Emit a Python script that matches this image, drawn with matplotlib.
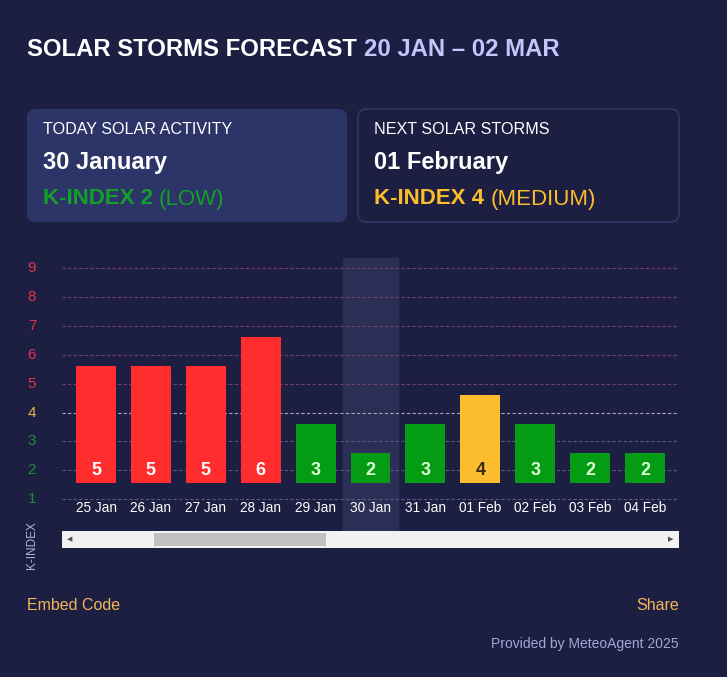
import numpy as np
import matplotlib.pyplot as plt
from matplotlib.patches import FancyBboxPatch, Rectangle

plt.rcParams['font.family'] = ['Liberation Sans', 'DejaVu Sans']

# data
dates = ['25 Jan', '26 Jan', '27 Jan', '28 Jan', '29 Jan', '30 Jan',
         '31 Jan', '01 Feb', '02 Feb', '03 Feb', '04 Feb']
kindex = [5, 5, 5, 6, 3, 2, 3, 4, 3, 2, 2]
today_idx = 5
y_levels = [1, 2, 3, 4, 5, 6, 7, 8, 9]

BG = '#1c1f42'
RED = '#ff2d2d'
GREEN = '#049c14'
YELLOW = '#fbbd2d'


def bar_color(v):
    if v >= 5:
        return RED
    if v == 4:
        return YELLOW
    return GREEN


def level_color(v):
    if v >= 5:
        return '#e0344a'
    if v == 4:
        return '#f0b24a'
    return '#1f8c3a'


def grid_color(v):
    if v >= 5:
        return '#7a3d6e'
    if v == 4:
        return '#a6a6bc'
    return '#575b82'


W, H = 727, 677
fig = plt.figure(figsize=(W / 100, H / 100), dpi=100, facecolor=BG)


def fx(px):
    return px / W


def fy(py):
    return 1 - py / H


# title
t1 = fig.text(fx(27), fy(50), 'SOLAR STORMS FORECAST ', color='white',
              fontsize=17.2, fontweight='bold', va='center', ha='left')
fig.canvas.draw()
bb = t1.get_window_extent()
fig.text(bb.x1 / W, fy(50), '20 JAN – 02 MAR', color='#c3c6fa',
         fontsize=17.2, fontweight='bold', va='center', ha='left')

# cards
card1 = FancyBboxPatch((fx(27), fy(222)), fx(320), (222 - 109) / H,
                       boxstyle='round,pad=0,rounding_size=0.012',
                       transform=fig.transFigure, facecolor='#2d3468',
                       edgecolor='none')
card2 = FancyBboxPatch((fx(358), fy(222)), fx(321), (222 - 109) / H,
                       boxstyle='round,pad=0,rounding_size=0.012',
                       transform=fig.transFigure, facecolor=BG,
                       edgecolor='#363b6e', linewidth=1)
fig.patches.extend([card1, card2])

fig.text(fx(43), fy(129), 'TODAY SOLAR ACTIVITY', color='white',
         fontsize=11.6, va='center')
fig.text(fx(43), fy(162), '30 January', color='white', fontsize=17,
         fontweight='bold', va='center')
k1 = fig.text(fx(43), fy(199), 'K-INDEX 2 ', color='#14a028', fontsize=16,
              fontweight='bold', va='center')
fig.text(fx(374), fy(129), 'NEXT SOLAR STORMS', color='white',
         fontsize=11.6, va='center')
fig.text(fx(374), fy(162), '01 February', color='white', fontsize=17,
         fontweight='bold', va='center')
k2 = fig.text(fx(374), fy(199), 'K-INDEX 4 ', color='#fbbd2d', fontsize=16,
              fontweight='bold', va='center')
fig.canvas.draw()
fig.text(k1.get_window_extent().x1 / W, fy(199), '(LOW)', color='#14a028',
         fontsize=16, va='center')
fig.text(k2.get_window_extent().x1 / W, fy(199), '(MEDIUM)', color='#fbbd2d',
         fontsize=16, va='center')

# chart
ax = fig.add_axes([fx(62), fy(531), fx(617), (531 - 258) / H])
ax.set_facecolor('none')
x = np.arange(len(dates))
ax.set_xlim(-0.62, len(dates) - 0.38)
ax.set_ylim(-0.10, 9.35)

ax.axvspan(today_idx - 0.5, today_idx + 0.5, ymin=0, ymax=1,
           color='#2b2f55', zorder=0)

for v in y_levels:
    ax.axhline(v, color=grid_color(v), linestyle=(0, (3, 2)), linewidth=0.8,
               zorder=1)

base = 1.57
for i, v in enumerate(kindex):
    ax.bar(x[i], v - 0.96, bottom=base, width=40 / 55, color=bar_color(v),
           zorder=2)
    tc = '#3a2a12' if v == 4 else ('#dcffd8' if v < 4 else 'white')
    ax.text(x[i], 2.0, str(v), color=tc, fontsize=13, fontweight='bold',
            ha='center', va='center', zorder=3)
    ax.text(x[i], 0.68, dates[i], color='white', fontsize=9.8,
            ha='center', va='center')

for s in ax.spines.values():
    s.set_visible(False)
ax.set_xticks([])
ax.set_yticks([])

for v in y_levels:
    fig.text(fx(32), ax.transData.transform((0, v))[1] / H, str(v),
             color=level_color(v), fontsize=11, ha='center', va='center')

fig.text(fx(32), fy(545), 'K-INDEX', color='#b0b4dc', fontsize=8.5,
         rotation=90, ha='center', va='center')

# scrollbar
fig.patches.append(Rectangle((fx(62), fy(548)), fx(617), 17 / H,
                             transform=fig.transFigure, facecolor='#f1f1f1',
                             edgecolor='none'))
fig.patches.append(Rectangle((fx(154), fy(546)), fx(172), 13 / H,
                             transform=fig.transFigure, facecolor='#c1c1c1',
                             edgecolor='none'))
fig.text(fx(70), fy(539.5), '◀', color='#505050', fontsize=5,
         ha='center', va='center')
fig.text(fx(671), fy(539.5), '▶', color='#505050', fontsize=5,
         ha='center', va='center')

# footer
fig.text(fx(27), fy(606), 'Embed Code', color='#f4b65a', fontsize=11.5,
         va='center')
fig.text(fx(679), fy(606), 'Share', color='#f4b65a', fontsize=11.5,
         va='center', ha='right')
fig.text(fx(679), fy(644), 'Provided by MeteoAgent 2025', color='#a3a7d4',
         fontsize=10, va='center', ha='right')

fig.savefig('out.png', dpi=100, facecolor=BG)
